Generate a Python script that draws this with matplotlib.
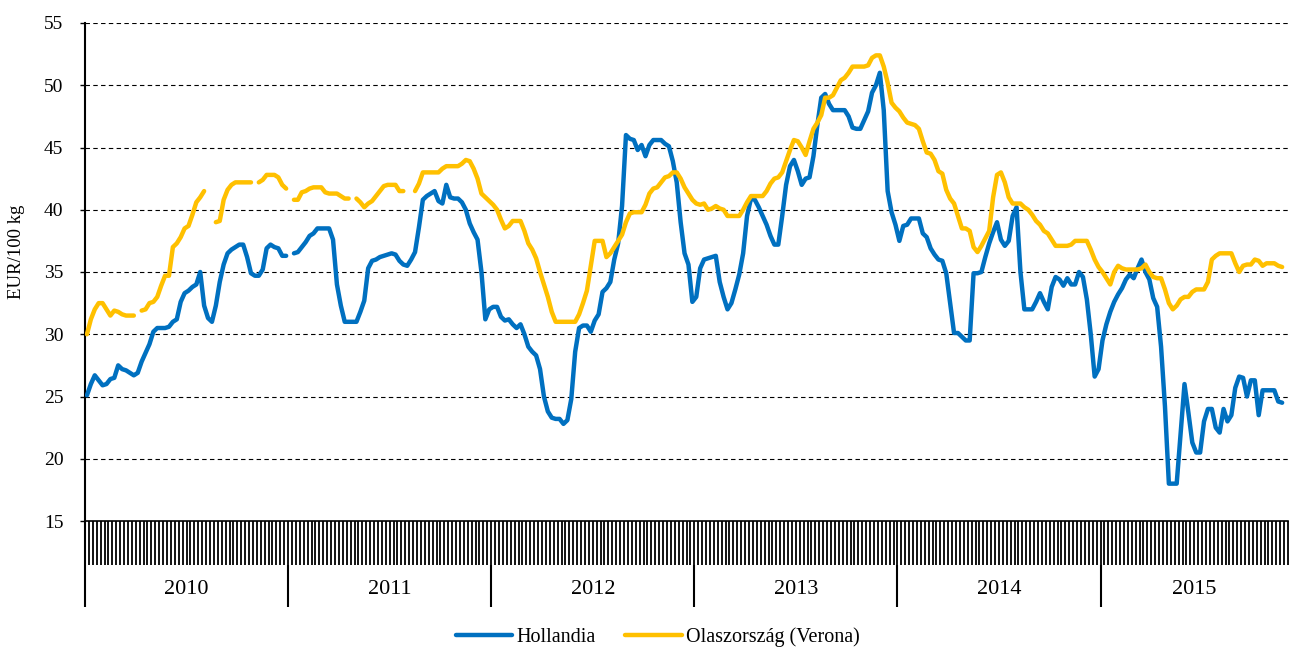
import numpy as np
import matplotlib
matplotlib.use("Agg")
import matplotlib.pyplot as plt
import matplotlib.transforms as mtransforms

nan = np.nan

# ---- data (weekly prices, EUR/100 kg) ----
years = ["2010", "2011", "2012", "2013", "2014", "2015"]
year_slots = [52, 52, 52, 52, 52, 48]

hol_2010 = [25.1, 26.0, 26.7, 26.3, 25.9, 26.0, 26.4, 26.5, 27.5, 27.2,
            27.1, 26.9, 26.7, 26.9, 27.8, 28.5, 29.2, 30.2, 30.5, 30.5,
            30.5, 30.6, 31.0, 31.2, 32.6, 33.3, 33.5, 33.8, 34.0, 35.0,
            32.3, 31.3, 31.0, 32.3, 34.2, 35.6, 36.5, 36.8, 37.0, 37.2,
            37.2, 36.2, 34.9, 34.7, 34.7, 35.2, 36.9, 37.2, 37.0, 36.9,
            36.3, 36.3]
hol_2011 = [nan, 36.5, 36.6, 37.0, 37.4, 37.9, 38.1, 38.5, 38.5, 38.5,
            38.5, 37.6, 34.0, 32.3, 31.0, 31.0, 31.0, 31.0, 31.8, 32.7,
            35.3, 35.9, 36.0, 36.2, 36.3, 36.4, 36.5, 36.4, 35.9, 35.6,
            35.5, 36.0, 36.6, 38.6, 40.8, 41.1, 41.3, 41.5, 40.7, 40.5,
            42.0, 41.0, 40.9, 40.9, 40.6, 40.0, 38.9, 38.2, 37.6, 35.0,
            31.2, 32.0]
hol_2012 = [32.2, 32.2, 31.4, 31.1, 31.2, 30.8, 30.5, 30.8, 30.0, 29.0,
            28.6, 28.3, 27.2, 25.0, 23.8, 23.3, 23.2, 23.2, 22.8, 23.1,
            24.8, 28.6, 30.5, 30.7, 30.7, 30.2, 31.1, 31.6, 33.4, 33.7,
            34.2, 36.0, 37.3, 40.3, 46.0, 45.7, 45.6, 44.8, 45.2, 44.3,
            45.2, 45.6, 45.6, 45.6, 45.3, 45.1, 43.9, 42.2, 39.0, 36.5,
            35.6, 32.6]
hol_2013 = [33.0, 35.3, 36.0, 36.1, 36.2, 36.3, 34.2, 33.0, 32.0, 32.5,
            33.6, 34.8, 36.5, 39.5, 40.9, 40.8, 40.2, 39.5, 38.8, 37.9,
            37.2, 37.2, 39.5, 42.0, 43.5, 44.0, 43.1, 42.0, 42.5, 42.6,
            44.3, 46.8, 49.0, 49.3, 48.5, 48.0, 48.0, 48.0, 48.0, 47.5,
            46.6, 46.5, 46.5, 47.2, 47.9, 49.4, 50.0, 51.0, 48.0, 41.5,
            39.8, 38.8]
hol_2014 = [37.5, 38.7, 38.8, 39.3, 39.3, 39.3, 38.1, 37.8, 36.9, 36.4,
            36.0, 35.9, 34.9, 32.5, 30.1, 30.1, 29.8, 29.5, 29.5, 34.9,
            34.9, 35.0, 36.2, 37.3, 38.2, 39.0, 37.6, 37.1, 37.5, 39.5,
            40.2, 35.0, 32.0, 32.0, 32.0, 32.6, 33.3, 32.6, 32.0, 33.8,
            34.6, 34.4, 33.9, 34.5, 34.0, 34.0, 35.0, 34.6, 32.8, 30.0,
            26.6, 27.2]
hol_2015 = [29.5, 30.8, 31.8, 32.6, 33.2, 33.7, 34.4, 34.8, 34.5, 35.3,
            36.0, 35.0, 34.4, 32.9, 32.2, 29.0, 24.2, 18.0, 18.0, 18.0,
            22.0, 26.0, 23.7, 21.3, 20.5, 20.5, 23.0, 24.0, 24.0, 22.5,
            22.1, 24.0, 23.0, 23.5, 25.7, 26.6, 26.5, 25.0, 26.3, 26.3,
            23.5, 25.5, 25.5, 25.5, 25.5, 24.6, 24.5]

ita_2010 = [30.0, 31.2, 32.0, 32.5, 32.5, 32.0, 31.5, 31.9, 31.8, 31.6,
            31.5, 31.5, 31.5, nan, 31.9, 32.0, 32.5, 32.6, 33.0, 33.9,
            34.7, 34.7, 37.0, 37.3, 37.8, 38.5, 38.7, 39.6, 40.6, 41.0,
            41.5, nan, nan, 39.0, 39.1, 40.8, 41.6, 42.0, 42.2, 42.2,
            42.2, 42.2, 42.2, nan, 42.2, 42.4, 42.8, 42.8, 42.8, 42.6,
            42.0, 41.7]
ita_2011 = [nan, 40.8, 40.8, 41.4, 41.5, 41.7, 41.8, 41.8, 41.8, 41.4,
            41.3, 41.3, 41.3, 41.1, 40.9, 40.9, nan, 40.9, 40.6, 40.2,
            40.5, 40.7, 41.1, 41.5, 41.9, 42.0, 42.0, 42.0, 41.5, 41.5,
            nan, nan, 41.5, 42.1, 43.0, 43.0, 43.0, 43.0, 43.0, 43.3,
            43.5, 43.5, 43.5, 43.5, 43.7, 44.0, 43.9, 43.3, 42.5, 41.3,
            41.0, 40.7]
ita_2012 = [40.4, 40.0, 39.2, 38.5, 38.7, 39.1, 39.1, 39.1, 38.3, 37.3,
            36.8, 36.1, 35.0, 34.0, 33.0, 31.8, 31.0, 31.0, 31.0, 31.0,
            31.0, 31.0, 31.6, 32.5, 33.5, 35.5, 37.5, 37.5, 37.5, 36.2,
            36.5, 37.0, 37.5, 38.0, 39.0, 39.7, 39.8, 39.8, 39.8, 40.4,
            41.3, 41.7, 41.8, 42.2, 42.6, 42.7, 43.0, 43.0, 42.5, 41.8,
            41.3, 40.8]
ita_2013 = [40.5, 40.4, 40.5, 40.0, 40.1, 40.3, 40.1, 40.0, 39.5, 39.5,
            39.5, 39.5, 40.0, 40.6, 41.1, 41.1, 41.1, 41.1, 41.5, 42.1,
            42.5, 42.6, 43.0, 43.9, 44.8, 45.6, 45.5, 45.0, 44.4, 45.5,
            46.5, 47.0, 47.6, 49.0, 49.0, 49.2, 49.8, 50.4, 50.6, 51.0,
            51.5, 51.5, 51.5, 51.5, 51.6, 52.2, 52.4, 52.4, 51.5, 50.2,
            48.6, 48.2]
ita_2014 = [47.9, 47.4, 47.0, 46.9, 46.8, 46.5, 45.5, 44.6, 44.5, 44.0,
            43.1, 42.9, 41.6, 40.9, 40.5, 39.5, 38.5, 38.5, 38.3, 37.0,
            36.6, 37.1, 37.7, 38.3, 41.0, 42.8, 43.0, 42.2, 41.0, 40.5,
            40.5, 40.5, 40.2, 40.0, 39.6, 39.1, 38.8, 38.3, 38.1, 37.6,
            37.1, 37.1, 37.1, 37.1, 37.2, 37.5, 37.5, 37.5, 37.5, 36.8,
            36.0, 35.4]
ita_2015 = [35.0, 34.5, 34.0, 35.0, 35.5, 35.3, 35.2, 35.2, 35.2, 35.2,
            35.3, 35.6, 35.0, 34.6, 34.5, 34.5, 33.6, 32.5, 32.0, 32.3,
            32.8, 33.0, 33.0, 33.4, 33.6, 33.6, 33.6, 34.2, 36.0, 36.3,
            36.5, 36.5, 36.5, 36.5, 35.7, 35.0, 35.5, 35.6, 35.6, 36.0,
            35.9, 35.5, 35.7, 35.7, 35.7, 35.5, 35.4]

series_names = ["Hollandia", "Olaszország (Verona)"]

hollandia = np.array(hol_2010 + hol_2011 + hol_2012 + hol_2013 + hol_2014 + hol_2015, dtype=float)
olasz = np.array(ita_2010 + ita_2011 + ita_2012 + ita_2013 + ita_2014 + ita_2015, dtype=float)

# ---- figure ----
plt.rcParams['font.family'] = ['Liberation Serif', 'DejaVu Serif']
FS_TICK = 14
FS_YEAR = 16
FS_LEG = 14.5
FS_YLAB = 13.5

W, H = 1292, 651
fig = plt.figure(figsize=(W / 100, H / 100), dpi=100)
ax = fig.add_axes([85 / W, 1 - 521 / H, (1288 - 85) / W, (521 - 23) / H])

x = np.arange(len(hollandia))
total_slots = sum(year_slots)

# grid
for v in range(20, 56, 5):
    ax.axhline(v, color='black', lw=0.8, ls=(0, (4, 3)), zorder=1)

l1, = ax.plot(x, hollandia, color='#0070C0', lw=3.2, solid_joinstyle='round',
              solid_capstyle='round', zorder=3)
l2, = ax.plot(x, olasz, color='#FFC000', lw=3.2, solid_joinstyle='round',
              solid_capstyle='round', zorder=4)

ax.set_xlim(-0.5, total_slots - 0.5)
ax.set_ylim(15, 55)
ax.set_yticks(range(15, 56, 5))
ax.set_xticks(np.arange(-0.5, total_slots, 1.0))
ax.tick_params(axis='x', length=31.7, width=1.3, direction='out',
               labelbottom=False, color='black')
ax.tick_params(axis='y', length=3.6, width=1.0, direction='out',
               labelsize=FS_TICK, pad=12)

for s in ['top', 'right']:
    ax.spines[s].set_visible(False)
ax.spines['left'].set_linewidth(1.5)
ax.spines['bottom'].set_linewidth(1.2)

# year separators and labels
trans = mtransforms.blended_transform_factory(ax.transData, ax.transAxes)
ax_h = 521 - 23
y_tick_end = -44 / ax_h
y_sep_end = -86 / ax_h
y_lab = -69 / ax_h
start = -0.5
for i, (yr, n) in enumerate(zip(years, year_slots)):
    y0 = 0 if i == 0 else y_tick_end
    ax.plot([start, start], [y0, y_sep_end], transform=trans, clip_on=False,
            color='black', lw=1.5, solid_capstyle='butt')
    ax.text(start + n / 2, y_lab, yr, transform=trans, ha='center',
            va='center', fontsize=FS_YEAR)
    start += n

fig.text(17 / W, 1 - 252 / H, 'EUR/100 kg', rotation=90, ha='center',
         va='center', fontsize=FS_YLAB)

fig.legend([l1, l2], series_names, loc='center',
           bbox_to_anchor=(0.509, 1 - 637 / H), ncol=2, frameon=False,
           fontsize=FS_LEG, handlelength=2.8, handletextpad=0.2,
           columnspacing=1.5)

fig.savefig('out.png', dpi=100)
